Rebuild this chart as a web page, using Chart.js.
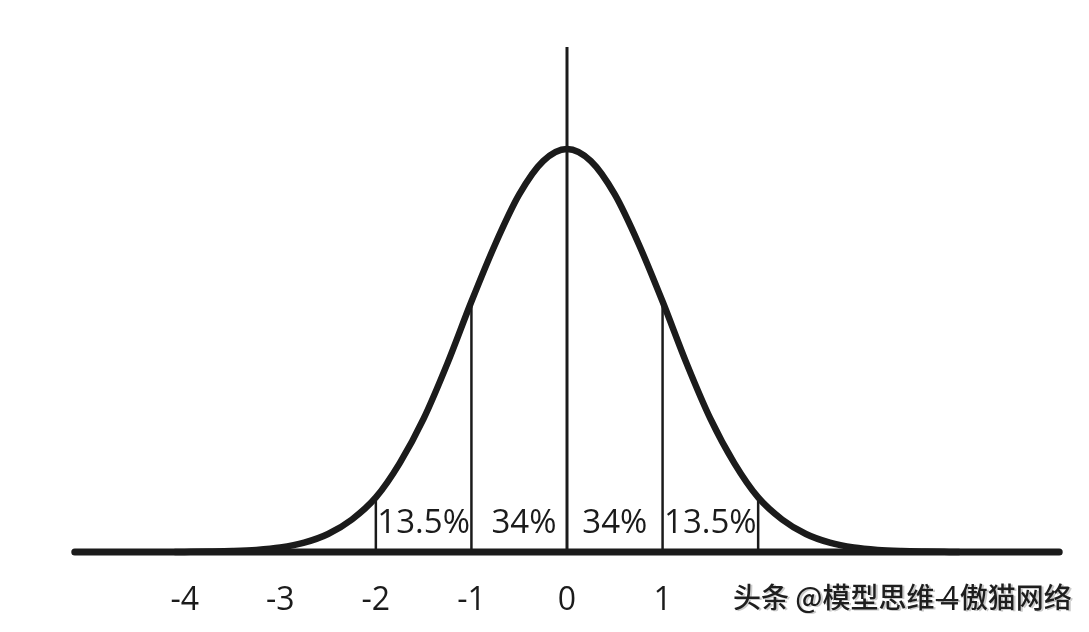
<!DOCTYPE html>
<html>
<head>
<meta charset="utf-8">
<script src="https://cdn.jsdelivr.net/npm/chart.js@4"></script>
<style>
  html, body { margin: 0; padding: 0; background: #fff; }
  #wrap { width: 1089px; height: 632px; }
</style>
</head>
<body>
<div id="wrap"><canvas id="bell"></canvas></div>
<script>
// bell curve
const curveX = [-4.1, -4, -3.75, -3.5, -3.25, -3, -2.75, -2.5, -2.25, -2, -1.75, -1.5, -1.25, -1, -0.75, -0.5, -0.25, 0,
    0.25, 0.5, 0.75, 1, 1.25, 1.5, 1.75, 2, 2.25, 2.5, 2.75, 3, 3.25, 3.5, 3.75, 4, 4.1];
const curveY = [0, 0.0001, 0.0004, 0.0009, 0.002, 0.0044, 0.0092, 0.0178, 0.0322, 0.054, 0.088, 0.132, 0.187, 0.248, 0.305, 0.354, 0.387, 0.399,
    0.387, 0.354, 0.305, 0.248, 0.187, 0.132, 0.088, 0.054, 0.0322, 0.0178, 0.0092, 0.0044, 0.002, 0.0009, 0.0004, 0.0001, 0];

// vertical dividers under the curve
const dividerX = [-2, -1, 1, 2];
const dividerY = [0.054, 0.248, 0.248, 0.054];

// area labels
const percentLabels = ['13.5%', '34%', '34%', '13.5%'];
const percentX = [-1.5, -0.45, 0.5, 1.5];

// x tick labels (2 and 3 sit under the watermark)
const tickValues = [-4, -3, -2, -1, 0, 1, 4];

const axisTop = 0.5;
const xMin = -5.2, xMax = 5.2;
const baselineX = [-5.15, 5.15];

const watermark = '头条 @模型思维—傲猫网络';

const ink = '#1b1b1b';

const datasets = [
    {
        data: baselineX.map(x => ({ x: x, y: 0 })),
        borderColor: ink, borderWidth: 7, borderCapStyle: 'round'
    },
    {
        data: [{ x: 0, y: 0 }, { x: 0, y: axisTop }],
        borderColor: ink, borderWidth: 3
    },
    {
        data: curveX.map((x, i) => ({ x: x, y: curveY[i] })),
        borderColor: ink, borderWidth: 6.5, cubicInterpolationMode: 'monotone', borderCapStyle: 'round'
    }
];
dividerX.forEach((x, i) => {
    datasets.push({
        data: [{ x: x, y: 0 }, { x: x, y: dividerY[i] }],
        borderColor: ink, borderWidth: 2.5
    });
});
datasets.forEach(d => {
    d.showLine = true;
    d.pointRadius = 0;
    d.pointHoverRadius = 0;
    d.clip = false;
});

const textPlugin = {
    id: 'texts',
    afterDatasetsDraw(chart) {
        const ctx = chart.ctx;
        const xs = chart.scales.x, ys = chart.scales.y;
        ctx.save();
        ctx.fillStyle = ink;
        ctx.font = '33px "Open Sans"';
        ctx.textAlign = 'center';
        ctx.textBaseline = 'alphabetic';
        percentLabels.forEach((t, i) => {
            ctx.fillText(t, xs.getPixelForValue(percentX[i]), ys.getPixelForValue(0) - 19);
        });
        ctx.restore();
    },
    afterDraw(chart) {
        const ctx = chart.ctx;
        ctx.save();
        ctx.font = '500 28px "Noto Sans CJK SC"';
        ctx.textAlign = 'left';
        ctx.textBaseline = 'middle';
        ctx.fillStyle = 'rgba(190,190,190,0.8)';
        ctx.fillText(watermark, 735, 598);
        ctx.fillStyle = '#1e1e1e';
        ctx.fillText(watermark, 733, 597);
        ctx.restore();
    }
};

new Chart(document.getElementById('bell'), {
    type: 'scatter',
    data: { datasets: datasets },
    options: {
        responsive: true,
        maintainAspectRatio: false,
        animation: false,
        events: [],
        layout: { padding: { left: 70, right: 25, top: 47, bottom: 0 } },
        plugins: { legend: { display: false }, tooltip: { enabled: false } },
        scales: {
            x: {
                type: 'linear',
                min: xMin, max: xMax,
                grid: { display: false, drawTicks: false },
                border: { display: false },
                afterBuildTicks: axis => { axis.ticks = tickValues.map(v => ({ value: v })); },
                afterFit: axis => { axis.height = 80; },
                ticks: {
                    autoSkip: false,
                    maxRotation: 0,
                    padding: 30,
                    color: ink,
                    font: { family: '"Open Sans"', size: 32 },
                    callback: v => String(v)
                }
            },
            y: {
                display: false,
                min: 0, max: axisTop
            }
        }
    },
    plugins: [textPlugin]
});
</script>
</body>
</html>
